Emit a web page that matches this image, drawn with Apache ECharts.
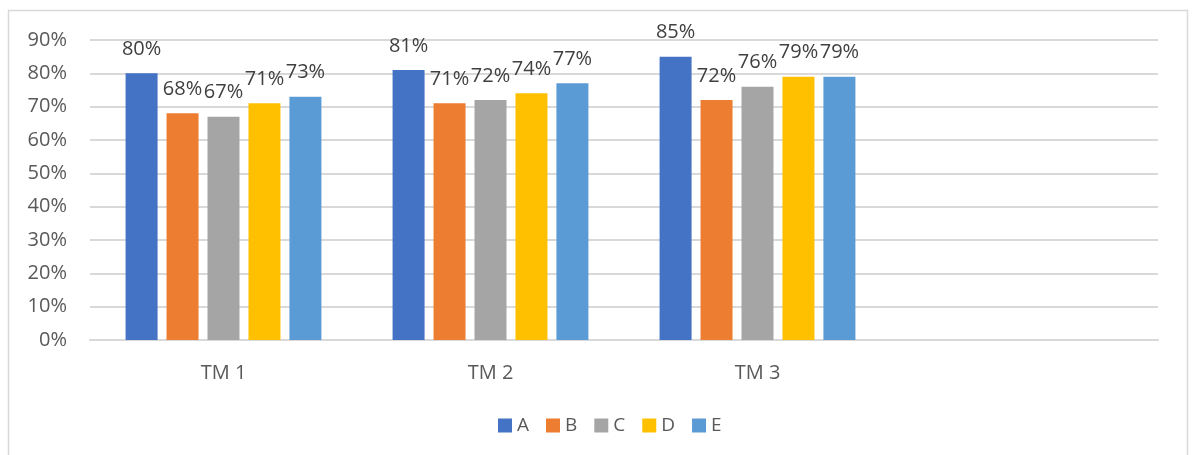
<!DOCTYPE html>
<html>
<head>
<meta charset="utf-8">
<script src="https://cdn.jsdelivr.net/npm/echarts@6/dist/echarts.min.js"></script>
<style>
html,body{margin:0;padding:0;background:#fff;}
#chart{width:1193px;height:455px;}
</style>
</head>
<body>
<div id="chart"></div>
<script>
const categories = ['TM 1', 'TM 2', 'TM 3', ''];
const seriesNames = ['A', 'B', 'C', 'D', 'E'];
const valuesA = [80, 81, 85, null];
const valuesB = [68, 71, 72, null];
const valuesC = [67, 72, 76, null];
const valuesD = [71, 74, 79, null];
const valuesE = [73, 77, 79, null];
const colors = ['#4472C4', '#ED7D31', '#A5A5A5', '#FFC000', '#5B9BD5'];
const allValues = [valuesA, valuesB, valuesC, valuesD, valuesE];

const FONT = '"Open Sans", "Noto Sans", sans-serif';
const chart = echarts.init(document.getElementById('chart'));
chart.setOption({
  animation: false,
  color: colors,
  graphic: [{
    type: 'rect',
    shape: { x: 8.5, y: 10.5, width: 1179, height: 470 },
    style: { fill: 'none', stroke: '#D9D9D9', lineWidth: 1.5 },
    silent: true
  }],
  grid: { left: 90, right: 35, top: 40, bottom: 115, containLabel: false },
  legend: {
    data: seriesNames,
    bottom: 15,
    left: 493,
    itemWidth: 14,
    itemHeight: 14,
    itemGap: 17,
    icon: 'rect',
    textStyle: { fontFamily: FONT, fontSize: 19, color: '#595959' }
  },
  xAxis: {
    type: 'category',
    data: categories,
    axisTick: { show: false },
    axisLine: { lineStyle: { color: '#D9D9D9', width: 2 } },
    axisLabel: { fontFamily: FONT, fontSize: 20, color: '#595959', margin: 23 }
  },
  yAxis: {
    type: 'value',
    min: 0, max: 90, interval: 10,
    axisLine: { show: false },
    axisTick: { show: false },
    splitLine: { lineStyle: { color: '#D9D9D9', width: 2 } },
    axisLabel: { formatter: '{value}%', fontFamily: FONT, fontSize: 20, color: '#595959', margin: 23 }
  },
  series: seriesNames.map((n, i) => ({
    name: n,
    type: 'bar',
    data: allValues[i],
    barWidth: 32,
    barGap: '28%',
    label: {
      show: true,
      position: 'top',
      distance: 14,
      formatter: '{c}%',
      fontFamily: FONT,
      fontSize: 20,
      color: '#404040'
    }
  }))
});
</script>
</body>
</html>
